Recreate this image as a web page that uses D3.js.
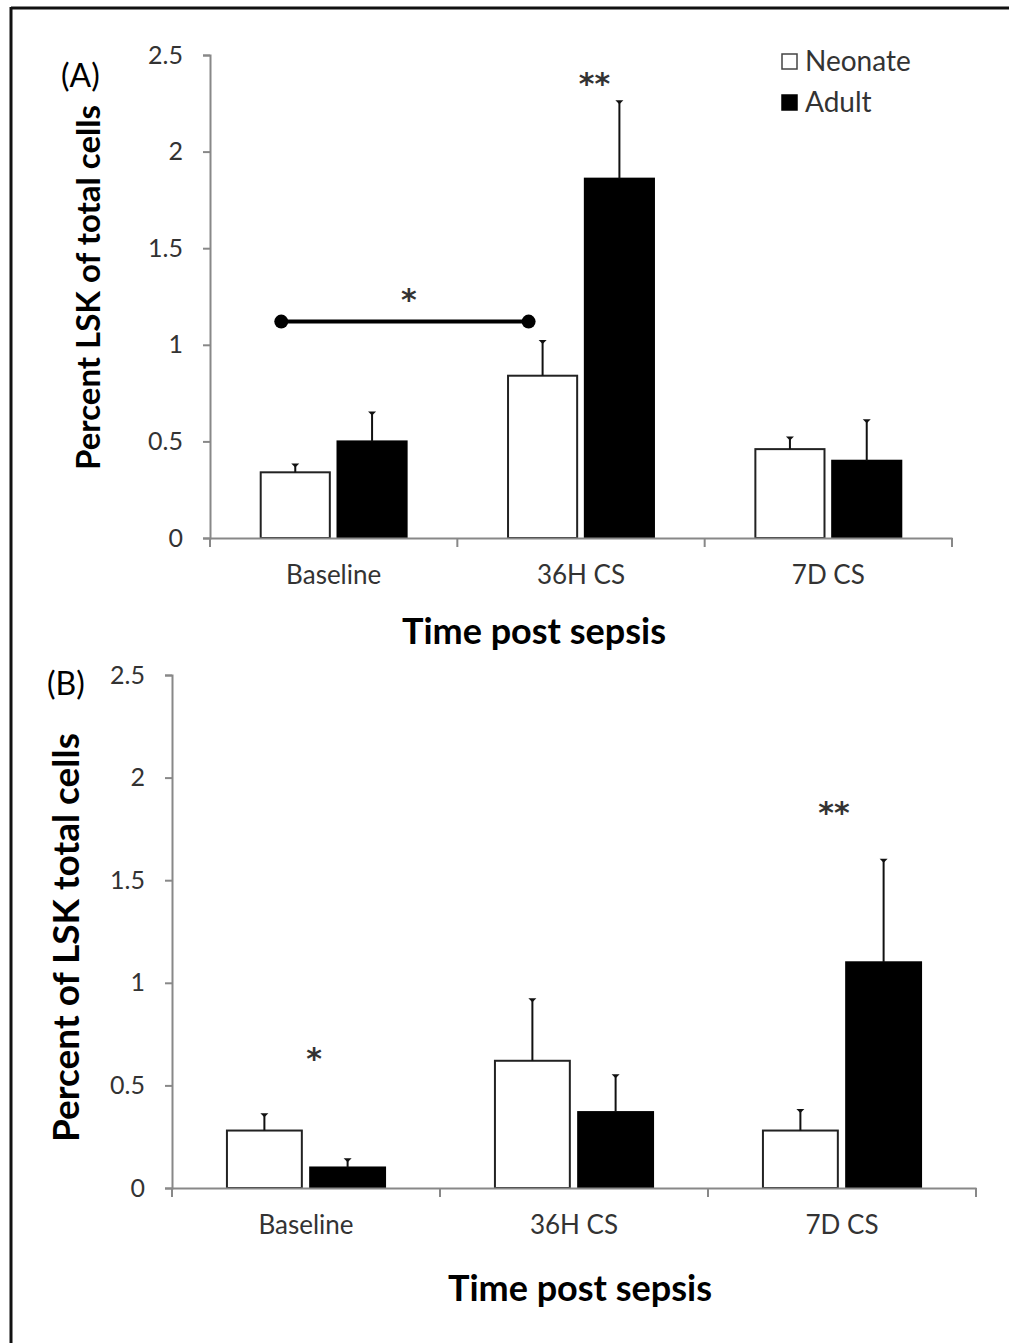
<!DOCTYPE html>
<html>
<head>
<meta charset="utf-8">
<script src="https://cdn.jsdelivr.net/npm/d3@7"></script>
<style>
  body { margin: 0; background: #fff; }
  svg { display: block; font-family: Lato, "Open Sans", sans-serif; }
  .tick text { fill: #333; }
</style>
</head>
<body>
<svg id="fig" width="1009" height="1343"></svg>
<script>
// ---- data ----
const categories = ["Baseline", "36H CS", "7D CS"];
const groups = ["Neonate", "Adult"];
const yTicks = [0, 0.5, 1, 1.5, 2, 2.5];

// panel A: percent LSK of total cells
const neonateA = [0.34, 0.84, 0.46];
const neonateErrA = [0.04, 0.18, 0.06];
const adultA = [0.50, 1.86, 0.40];
const adultErrA = [0.15, 0.40, 0.21];

// panel B: percent of LSK total cells
const neonateB = [0.28, 0.62, 0.28];
const neonateErrB = [0.08, 0.30, 0.10];
const adultB = [0.10, 0.37, 1.10];
const adultErrB = [0.04, 0.18, 0.50];

const svg = d3.select("#fig");

// frame (top + left edge)
svg.append("line").attr("x1", 11).attr("x2", 1009).attr("y1", 8).attr("y2", 8)
    .attr("stroke", "#111").attr("stroke-width", 3);
svg.append("line").attr("x1", 11).attr("x2", 11).attr("y1", 7).attr("y2", 1343)
    .attr("stroke", "#111").attr("stroke-width", 3);

function panel(opt) {
    let x0 = d3.scaleBand().domain(categories).range([opt.left, opt.right]);
    let y = d3.scaleLinear().domain([0, 2.5]).range([opt.bottom, opt.top]);
    let x1 = d3.scaleBand().domain(groups)
        .range([x0.bandwidth() * 0.205, x0.bandwidth() * 0.795]).paddingInner(0.1);

    let rows = [];
    categories.forEach((c, i) => {
        rows.push({cat: c, grp: "Neonate", v: opt.neo[i], e: opt.neoErr[i]});
        rows.push({cat: c, grp: "Adult", v: opt.adu[i], e: opt.aduErr[i]});
    });

    let g = svg.append("g");

    // bars
    g.selectAll("rect.bar").data(rows).enter().append("rect")
        .attr("class", "bar")
        .attr("x", d => x0(d.cat) + x1(d.grp))
        .attr("y", d => y(d.v))
        .attr("width", x1.bandwidth())
        .attr("height", d => y(0) - y(d.v))
        .attr("fill", d => d.grp === "Adult" ? "#000" : "#fff")
        .attr("stroke", d => d.grp === "Adult" ? "#000" : "#222")
        .attr("stroke-width", 2);

    // error bars (upper only)
    let cx = d => x0(d.cat) + x1(d.grp) + x1.bandwidth() / 2;
    g.selectAll("line.err").data(rows).enter().append("line")
        .attr("x1", cx).attr("x2", cx)
        .attr("y1", d => y(d.v)).attr("y2", d => y(d.v + d.e))
        .attr("stroke", "#111").attr("stroke-width", 2);
    g.selectAll("path.cap").data(rows).enter().append("path")
        .attr("d", d => {
            let px = cx(d), py = y(d.v + d.e);
            return `M${px - 4},${py - 1}L${px + 4},${py - 1}L${px},${py + 3}Z`;
        })
        .attr("fill", "#111");

    // axes
    let yAxis = g.append("g")
        .attr("transform", `translate(${opt.left},0)`)
        .call(d3.axisLeft(y).tickValues(yTicks).tickFormat(d => String(d)).tickSizeOuter(0).tickSize(7).tickPadding(opt.tickPad));
    let xAxis = g.append("g")
        .attr("transform", `translate(0,${opt.bottom})`)
        .call(d3.axisBottom(x0).tickSize(0).tickPadding(28));
    // category boundary ticks
    let bounds = categories.map(c => x0(c)).concat([opt.right]);
    xAxis.selectAll("line.bnd").data(bounds).enter().append("line")
        .attr("class", "bnd")
        .attr("x1", d => d).attr("x2", d => d).attr("y1", 0).attr("y2", 9)
        .attr("stroke", "#888").attr("stroke-width", 2);

    [yAxis, xAxis].forEach(a => {
        a.select(".domain").attr("stroke", "#888").attr("stroke-width", 2);
        a.selectAll(".tick line").attr("stroke", "#888").attr("stroke-width", 2);
        a.selectAll(".tick text").style("font-size", "25px").style("font-family", "Lato, sans-serif");
    });
    xAxis.selectAll(".tick text").style("font-size", "26px");

    // titles
    svg.append("text")
        .attr("transform", `translate(${opt.yTitleX},${(opt.top + opt.bottom) / 2 + opt.yTitleDy}) rotate(-90)`)
        .attr("text-anchor", "middle")
        .style("font-size", opt.yTitleSize + "px").style("font-weight", "bold")
        .text(opt.yTitle);
    svg.append("text")
        .attr("x", opt.xTitleX).attr("y", opt.xTitleY)
        .attr("text-anchor", "middle")
        .style("font-size", "36px").style("font-weight", "bold")
        .text("Time post sepsis");
    svg.append("text")
        .attr("x", opt.labelX).attr("y", opt.labelY)
        .style("font-size", "32px")
        .text(opt.label);

    // significance marks
    opt.stars.forEach(s => {
        let px = x0(s.cat) + (s.grp ? x1(s.grp) + x1.bandwidth() / 2 : x0.bandwidth() / 2) + (s.dx || 0);
        svg.append("text")
            .attr("x", px).attr("y", y(s.v))
            .attr("text-anchor", "middle")
            .style("font-size", "30px").style("font-weight", "bold")
            .style("font-family", "'DejaVu Sans', sans-serif").style("fill", "#333")
            .text(s.t);
    });

    return {x0: x0, x1: x1, y: y};
}

// ---- panel A ----
let A = panel({
    left: 210, right: 952, top: 55, bottom: 538,
    neo: neonateA, neoErr: neonateErrA, adu: adultA, aduErr: adultErrA,
    tickPad: 20,
    yTitle: "Percent LSK of total cells", yTitleSize: 33, yTitleX: 100, yTitleDy: -9,
    xTitleX: 534, xTitleY: 644,
    label: "(A)", labelX: 61, labelY: 87,
    stars: [{cat: "36H CS", grp: "Adult", v: 2.3, t: "**", dx: -25}]
});

// bracket between neonate baseline and neonate 36H
const bracketCats = ["Baseline", "36H CS"];
const bracketValue = 1.12;
let bx = bracketCats.map(c => A.x0(c) + A.x1("Neonate") + A.x1.bandwidth() / 2 - 14);
svg.append("line")
    .attr("x1", bx[0]).attr("x2", bx[1])
    .attr("y1", A.y(bracketValue)).attr("y2", A.y(bracketValue))
    .attr("stroke", "#000").attr("stroke-width", 4);
svg.selectAll("circle.br").data(bx).enter().append("circle")
    .attr("cx", d => d).attr("cy", A.y(bracketValue)).attr("r", 7).attr("fill", "#000");
svg.append("text")
    .attr("x", (bx[0] + bx[1]) / 2 + 4).attr("y", A.y(1.18))
    .attr("text-anchor", "middle").style("font-size", "30px").style("font-weight", "bold")
    .style("font-family", "'DejaVu Sans', sans-serif").style("fill", "#333")
    .text("*");

// legend
const legendY = [62, 103];
svg.selectAll("rect.leg").data(groups).enter().append("rect")
    .attr("x", 782).attr("y", (d, i) => legendY[i] - 8).attr("width", 15).attr("height", 15)
    .attr("fill", d => d === "Adult" ? "#000" : "#fff")
    .attr("stroke", d => d === "Adult" ? "#000" : "#444").attr("stroke-width", 1.5);
svg.selectAll("text.leg").data(groups).enter().append("text")
    .attr("x", 805).attr("y", (d, i) => legendY[i] + 9)
    .style("font-size", "28px").style("fill", "#333")
    .text(d => d);

// ---- panel B ----
panel({
    left: 172, right: 976, top: 675, bottom: 1188,
    neo: neonateB, neoErr: neonateErrB, adu: adultB, aduErr: adultErrB,
    tickPad: 20,
    yTitle: "Percent of LSK total cells", yTitleSize: 37, yTitleX: 79, yTitleDy: 6,
    xTitleX: 580, xTitleY: 1301,
    label: "(B)", labelX: 47, labelY: 695,
    stars: [{cat: "Baseline", v: 0.58, t: "*", dx: 8},
            {cat: "7D CS", v: 1.78, t: "**", dx: -8}]
});
</script>
</body>
</html>
